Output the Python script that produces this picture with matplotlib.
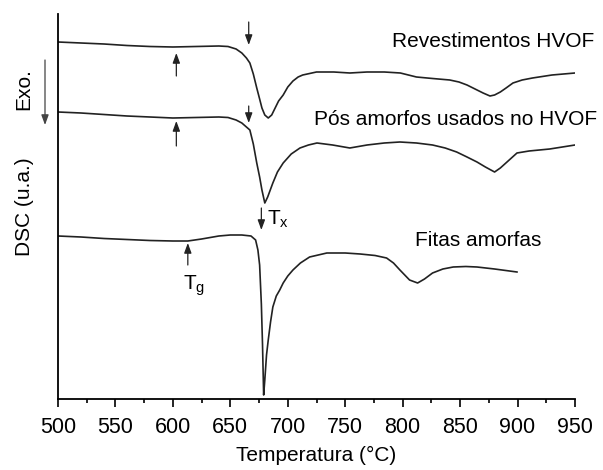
import matplotlib.pyplot as plt

plt.rcParams['font.family'] = ['Liberation Sans', 'DejaVu Sans']

# Revestimentos HVOF
t1 = [500, 520, 540, 560, 580, 600, 620, 640, 648, 655, 660, 664, 667, 670, 673, 675.5, 677.5,
      680, 683, 686, 689, 692, 696, 700, 704.5, 709, 713, 725, 740, 754, 769, 784, 798, 812,
      826, 841, 849, 856, 863, 870, 876, 880, 885, 890, 896, 904, 913, 930, 950]
y1 = [357, 356, 355, 353.5, 352.5, 352, 352.5, 353, 352.5, 350, 346, 341, 336, 325, 311, 300, 291,
      284, 281, 284, 291, 298, 304, 312, 318, 322, 324, 327, 327, 326, 327, 327, 326, 322,
      320.5, 319, 317, 314, 310, 306, 303, 304, 307, 311, 316, 319, 321, 324, 326]

# Pós amorfos usados no HVOF
t2 = [500, 520, 540, 560, 580, 600, 620, 640, 648, 655, 660, 664, 667, 670, 673, 675.5, 677.5,
      680, 682.5, 687, 691, 696, 703, 710.6, 718, 725.4, 739, 754, 769, 784, 797.6, 812, 826,
      837, 847, 856, 864.7, 872, 880, 885, 890.8, 899.5, 910, 928, 950]
y2 = [287, 286, 284.5, 283, 282, 281, 281.5, 282, 281.5, 279, 276, 272, 269, 255, 236, 222, 209,
      196, 202, 216, 227, 236, 245, 251, 254, 256, 254, 251, 254, 256, 257, 256, 254,
      251, 247, 242, 237, 232, 227, 231, 237, 246, 248, 250, 254]

# Fitas amorfas
t3 = [500, 520, 540, 560, 580, 600, 613, 625, 640, 650, 660, 668, 672, 674, 675.5, 677, 678,
      679, 680, 681.5, 683, 685, 687, 690, 693, 696, 700, 704.5, 711, 719, 734, 750, 763, 776,
      786, 792, 797.6, 806, 813, 819, 826, 835, 844, 855, 864.7, 880, 899.5]
y3 = [163, 162, 160.5, 159.5, 158.5, 158, 158, 160, 163, 164, 164, 163, 159, 149, 134, 95, 55,
      4, 19, 44, 59, 77, 92, 103, 109, 116, 123, 129, 136, 142, 146, 146, 145, 143.5,
      141, 136, 129, 119, 116, 120, 126, 130, 132, 132.5, 132, 130, 127]

xticks = [500, 550, 600, 650, 700, 750, 800, 850, 900, 950]

fig = plt.figure(figsize=(6.03, 4.70), dpi=100)
ax = fig.add_axes([58 / 603, 71 / 470, 517 / 603, 385 / 470])

for t, y in [(t1, y1), (t2, y2), (t3, y3)]:
    ax.plot(t, y, color='#222222', lw=1.2, solid_joinstyle='round')

ax.set_xlim(500, 950)
ax.set_ylim(0, 385)
ax.set_xticks(xticks)
ax.set_xticks(range(525, 950, 50), minor=True)
ax.set_yticks([])
ax.tick_params(axis='x', which='major', length=6, width=1.2, labelsize=15.5, pad=7, direction='out')
ax.tick_params(axis='x', which='minor', length=3, width=1.2, direction='out')
for s in ['top', 'right']:
    ax.spines[s].set_visible(False)
for s in ['left', 'bottom']:
    ax.spines[s].set_linewidth(1.3)
ax.set_xlabel('Temperatura (°C)', fontsize=15, labelpad=6)

arr = dict(arrowstyle='-|>,head_length=0.6,head_width=0.22', lw=0.9, color='#222222',
           shrinkA=0, shrinkB=0, mutation_scale=10)
# (x, y_start, y_end)
arrows = [(603, 323, 346), (666, 377, 354), (603, 253, 278), (666, 293, 276),
          (677, 191, 169), (613, 134, 156)]
for x, ys, ye in arrows:
    ax.annotate('', xy=(x, ye), xytext=(x, ys), arrowprops=arr, annotation_clip=False)

ax.text(682, 180, r'T$_\mathregular{x}$', fontsize=15, ha='left', va='center')
ax.text(609, 126, r'T$_\mathregular{g}$', fontsize=15, ha='left', va='top')

ax.text(967, 357, 'Revestimentos HVOF', fontsize=15, ha='right', va='center', clip_on=False)
ax.text(969, 279, 'Pós amorfos usados no HVOF', fontsize=15, ha='right', va='center', clip_on=False)
ax.text(866, 158, 'Fitas amorfas', fontsize=15, ha='center', va='center')

fig.text(24 / 603, 1 - 89 / 470, 'Exo.', rotation=90, fontsize=15, ha='center', va='center')
fig.text(24 / 603, 1 - 207 / 470, 'DSC (u.a.)', rotation=90, fontsize=15, ha='center', va='center')
ax.annotate('', xy=(45, 470 - 125), xytext=(45, 470 - 60), xycoords='figure pixels',
            textcoords='figure pixels', arrowprops=dict(arr, color='#444444'))

fig.savefig('out.png', dpi=100)
